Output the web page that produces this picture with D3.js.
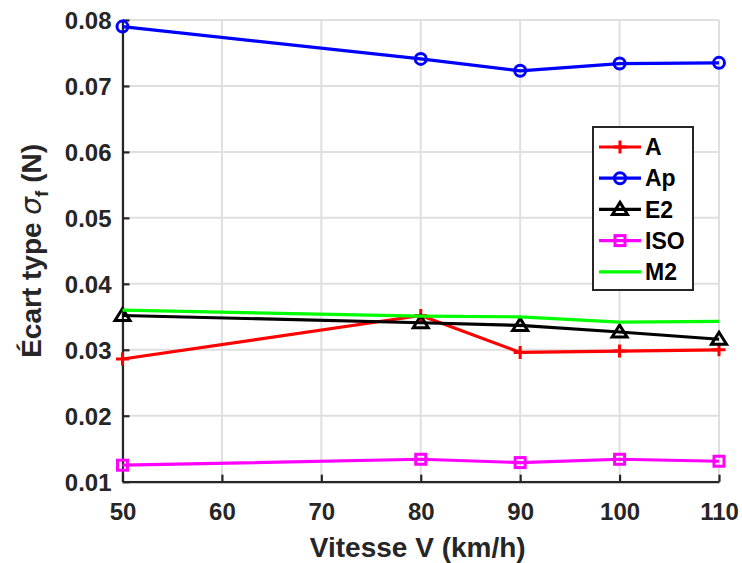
<!DOCTYPE html>
<html><head><meta charset="utf-8">
<script src="https://cdn.jsdelivr.net/npm/d3@7"></script>
<style>body{margin:0;background:#fff}svg{display:block}</style>
</head><body>
<script>
const speeds = [50, 80, 90, 100, 110];
const seriesNames = ["A", "Ap", "E2", "ISO", "M2"];
const valuesA   = [0.0286, 0.0352, 0.0296, 0.0298, 0.0300];
const valuesAp  = [0.0790, 0.0741, 0.0723, 0.0734, 0.0735];
const valuesE2  = [0.0352, 0.0341, 0.0337, 0.0327, 0.0316];
const valuesISO = [0.0125, 0.0134, 0.0129, 0.0134, 0.0131];
const valuesM2  = [0.0360, 0.0351, 0.0350, 0.0342, 0.0343];
const xTicks = [50, 60, 70, 80, 90, 100, 110];
const yTicks = [0.01, 0.02, 0.03, 0.04, 0.05, 0.06, 0.07, 0.08];

const colors = {A:"#ff0000", Ap:"#0000ff", E2:"#000000", ISO:"#ff00ff", M2:"#00ff00"};
const markers = {A:"plus", Ap:"circle", E2:"triangle", ISO:"square", M2:null};
const dataMap = {A:valuesA, Ap:valuesAp, E2:valuesE2, ISO:valuesISO, M2:valuesM2};

const W = 742, H = 563;
const L = 122.5, R = 719, T = 20, B = 481.7;
const svg = d3.select("body").append("svg").attr("width", W).attr("height", H);
const x = d3.scaleLinear().domain([50, 110]).range([L, R]);
const y = d3.scaleLinear().domain([0.01, 0.08]).range([B, T]);
const axisCol = "#262626";
const font = "'Liberation Sans', Arial, Helvetica, sans-serif";

// grid
const grid = svg.append("g");
grid.selectAll(".gx").data(xTicks).join("line")
  .attr("x1", d => x(d)).attr("x2", d => x(d)).attr("y1", T).attr("y2", B)
  .attr("stroke", "#dfdfdf").attr("stroke-width", 2);
grid.selectAll(".gy").data(yTicks).join("line")
  .attr("y1", d => y(d)).attr("y2", d => y(d)).attr("x1", L).attr("x2", R)
  .attr("stroke", "#dfdfdf").attr("stroke-width", 2);

// axes
const xAxis = d3.axisBottom(x).tickValues(xTicks).tickSizeInner(-7).tickSizeOuter(0).tickPadding(16)
  .tickFormat(d3.format("d"));
const gx = svg.append("g").attr("transform", `translate(0,${B})`).call(xAxis);
const yAxis = d3.axisLeft(y).tickValues(yTicks).tickSizeInner(-7).tickSizeOuter(0).tickPadding(11)
  .tickFormat(d3.format(".2f"));
const gy = svg.append("g").attr("transform", `translate(${L},0)`).call(yAxis);
[gx, gy].forEach(g => {
  g.select(".domain").attr("stroke", axisCol).attr("stroke-width", 2.2);
  g.selectAll(".tick line").attr("stroke", axisCol).attr("stroke-width", 2.2);
  g.selectAll(".tick text").attr("fill", axisCol).attr("font-family", font)
    .attr("font-weight", "bold").attr("font-size", 24);
});
gx.selectAll(".tick text").attr("y", 38).attr("dy", 0);
gy.selectAll(".tick text").attr("dy", "0.35em");

// axis labels
svg.append("text").attr("x", (L + R) / 2 - 3).attr("y", 557)
  .attr("text-anchor", "middle").attr("fill", axisCol).attr("font-family", font)
  .attr("font-weight", "bold").attr("font-size", 28).text("Vitesse V (km/h)");
const yl = svg.append("text").attr("transform", `translate(41,${(T + B) / 2}) rotate(-90)`)
  .attr("text-anchor", "middle").attr("fill", axisCol).attr("font-family", font)
  .attr("font-weight", "bold").attr("font-size", 28);
yl.append("tspan").text("Écart type ");
yl.append("tspan").attr("font-style", "italic").attr("font-weight", "normal")
  .attr("font-family", "'DejaVu Sans', sans-serif").text("σ");
yl.append("tspan").attr("font-size", 19).attr("dy", 7).text("f");
yl.append("tspan").attr("dy", -7).text(" (N)");

// marker drawing
function drawMarker(g, type, cx, cy, color) {
  if (type === "plus") {
    g.append("path").attr("d", `M${cx-6.5},${cy}H${cx+6.5}M${cx},${cy-6.5}V${cy+6.5}`)
      .attr("stroke", color).attr("stroke-width", 3).attr("fill", "none");
  } else if (type === "circle") {
    g.append("circle").attr("cx", cx).attr("cy", cy).attr("r", 5.5)
      .attr("stroke", color).attr("stroke-width", 3).attr("fill", "none");
  } else if (type === "triangle") {
    g.append("path").attr("d", `M${cx},${cy-7}L${cx+7.5},${cy+5}L${cx-7.5},${cy+5}Z`)
      .attr("stroke", color).attr("stroke-width", 3).attr("fill", "none").attr("stroke-linejoin", "miter");
  } else if (type === "square") {
    g.append("rect").attr("x", cx-5).attr("y", cy-5).attr("width", 10).attr("height", 10)
      .attr("stroke", color).attr("stroke-width", 3).attr("fill", "none");
  }
}

const line = d3.line().x((d, i) => x(speeds[i])).y(d => y(d));
seriesNames.forEach(name => {
  const g = svg.append("g");
  g.append("path").datum(dataMap[name]).attr("d", line)
    .attr("fill", "none").attr("stroke", colors[name]).attr("stroke-width", 3.2)
    .attr("stroke-linejoin", "round");
  if (markers[name]) dataMap[name].forEach((v, i) => drawMarker(g, markers[name], x(speeds[i]), y(v), colors[name]));
});

// legend
const lg = svg.append("g");
lg.append("rect").attr("x", 593).attr("y", 127).attr("width", 100).attr("height", 163)
  .attr("fill", "#fff").attr("stroke", axisCol).attr("stroke-width", 2);
seriesNames.forEach((name, i) => {
  const cy = 147 + i * 31.2;
  lg.append("line").attr("x1", 599).attr("x2", 641).attr("y1", cy).attr("y2", cy)
    .attr("stroke", colors[name]).attr("stroke-width", 3.2);
  if (markers[name]) drawMarker(lg, markers[name], 620, cy, colors[name]);
  lg.append("text").attr("x", 645).attr("y", cy).attr("dy", "0.36em")
    .attr("font-family", font).attr("font-weight", "bold").attr("font-size", 23)
    .attr("fill", "#000").text(name);
});
</script>
</body></html>
